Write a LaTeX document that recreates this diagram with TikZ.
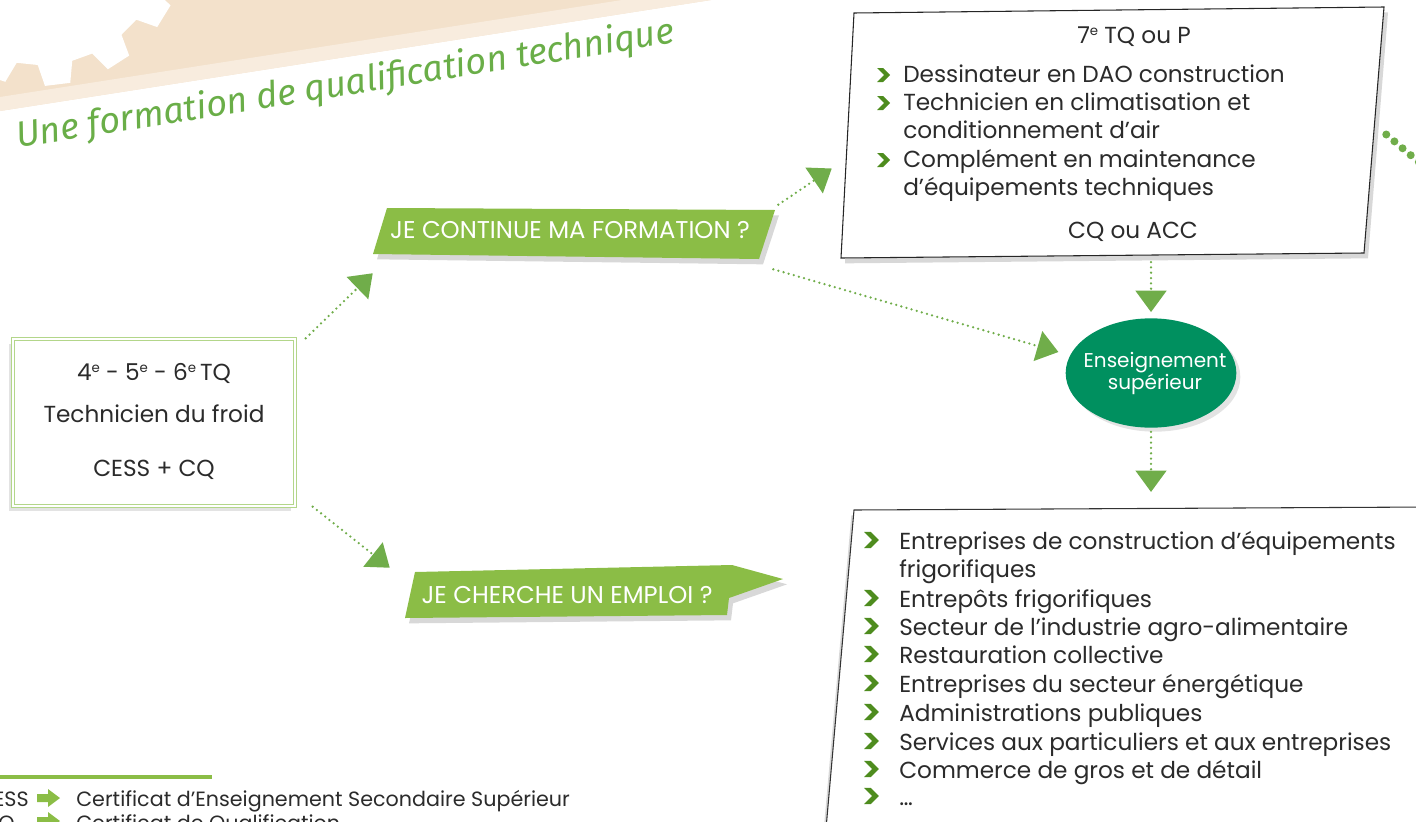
\documentclass[tikz,border=0pt]{standalone}
\usepackage{fontspec}
\setmainfont{Poppins}
\newfontfamily\handfont{Fira Sans}
\usetikzlibrary{arrows.meta,calc,fit,shapes.geometric,shadows}
\definecolor{bannergreen}{HTML}{8BBD46}
\definecolor{arrowgreen}{HTML}{70AD4A}
\definecolor{ellgreen}{HTML}{00905F}
\definecolor{chevgreen}{HTML}{4E8C1E}
\definecolor{titlegreen}{HTML}{6AAE48}
\definecolor{boxgreen}{HTML}{B3D68A}
\definecolor{textdark}{HTML}{2B2B2B}
\definecolor{beige}{HTML}{F3E1CB}
\definecolor{beigelight}{HTML}{F8ECDE}
\newcommand\ordsup[1]{\raisebox{0.62ex}{\fontsize{10}{10}\selectfont #1}}
\tikzset{
  flow/.style={draw=arrowgreen, line width=1.9pt, dash pattern=on 0pt off 4pt, line cap=round,
    -{Triangle[length=16pt,width=23pt,line cap=butt]}},
  bigdots/.style={draw=arrowgreen, line width=6pt, dash pattern=on 0pt off 8pt, line cap=round},
  txt/.style={font=\fontsize{17.4}{20}\selectfont, text=textdark, inner sep=0pt},
  smalltxt/.style={font=\fontsize{15.5}{18}\selectfont, text=textdark, inner sep=0pt},
  bantxt/.style={font=\fontsize{18.2}{20}\selectfont, text=white, inner sep=0pt},
  frame/.style={inner sep=0pt},
  chev/.pic={\fill[chevgreen] (0,-7)--(6,-7)--(13,0)--(6,7)--(0,7)--(7,0)--cycle;},
  shad/.style={drop shadow={shadow xshift=#1, shadow yshift=-4pt, opacity=.22, fill=black!70}},
}
\begin{document}
\begin{tikzpicture}[x=0.75pt,y=-0.75pt]
\useasboundingbox (0,0) rectangle (1416,821);
\clip (0,0) rectangle (1416,821);
% background band and gear
\fill[beige] (0,0) -- (711,0) -- (0,111) -- cycle;
\fill[beigelight] (0,97) -- (622,0) -- (711,0) -- (0,111) -- cycle;
\begin{scope}[shift={(40,-60)}]
\fill[white] (-3:125) \foreach \k [evaluate=\k as \a using 5.9+\k*25.714] in {0,...,13}
  { -- ({\a-8}:125) -- ({\a-5}:146) -- ({\a+5}:146) -- ({\a+8}:125)} -- cycle;
\end{scope}
\node[rotate=9.1, anchor=base west, inner sep=0pt, text=titlegreen,
  font=\handfont\itshape\fontsize{27}{30}\selectfont] (title) at (18,148)
  {Une formation de qualification technique};

% left box
\node[fit={(13,339) (295,506)}, frame, fill=white, draw=boxgreen, line width=1.1pt,
  double=white, double distance=1.4pt, drop shadow={shadow xshift=-3pt, shadow yshift=-4pt, opacity=.22}] (lb) {};
\node[txt, anchor=base] (lb1) at (154,380) {4\ordsup{e} - 5\ordsup{e} - 6\ordsup{e}\,TQ};
\node[txt, anchor=base] (lb2) at (154,422) {Technicien du froid};
\node[txt, anchor=base] (lb3) at (154,476) {CESS + CQ};

% banner 1
\fill[bannergreen, shad=3pt] (387,208) -- (775,210) -- (759,259) -- (373,254) -- cycle;
\node[fit={(373,208) (778,260)}, frame] (b1) {};
\node[bantxt, anchor=base] (b1t) at (570,238) {JE CONTINUE MA FORMATION ?};

% banner 2
\fill[bannergreen, shad=3pt] (415,572) -- (732,565) -- (783,579) -- (729,598) -- (727,615) -- (405,618) -- cycle;
\node[fit={(405,565) (783,618)}, frame] (b2) {};
\node[bantxt, anchor=base] (b2t) at (567,603) {JE CHERCHE UN EMPLOI ?};

% top right box
\filldraw[fill=white, draw=black!85, line width=0.8pt, shad=3pt] (854,13) -- (1384,7) -- (1364,253) -- (841,258) -- cycle;
\node[fit={(841,7) (1384,258)}, frame] (tb) {};
\node[txt, anchor=base] (tb0) at (1134,43) {7\ordsup{e} TQ ou P};
\node[txt, anchor=base west] (tb1) at (903,82) {Dessinateur en DAO construction};
\node[txt, anchor=base west] (tb2) at (903,110) {Technicien en climatisation et};
\node[txt, anchor=base west] (tb3) at (903,138) {conditionnement d’air};
\node[txt, anchor=base west] (tb4) at (903,167) {Complément en maintenance};
\node[txt, anchor=base west] (tb5) at (903,195) {d’équipements techniques};
\node[txt, anchor=base] (tb6) at (1133,238) {CQ ou ACC};
\pic at (877,75) {chev};
\pic at (877,103) {chev};
\pic at (877,160) {chev};

% ellipse
\node[ellipse, fill=ellgreen, minimum width=128pt, minimum height=82pt, inner sep=0pt,
  drop shadow={shadow xshift=3pt, shadow yshift=-3pt, opacity=.22}] (es) at (1151,373) {};
\node[text=white, align=center, inner sep=0pt, font=\fontsize{15}{16.5}\selectfont] (est)
  at (1155,373) {Enseignement\\supérieur};

% bottom right box
\filldraw[fill=white, draw=black!80, line width=0.8pt, shad=-2pt] (854,510) -- (1430,507) -- (1430,840) -- (825,840) -- cycle;
\node[fit={(826,507) (1416,821)}, frame] (bb) {};
\foreach \n/\yy/\t in {e1/549/{Entreprises de construction d’équipements},
  e1b/577/{frigorifiques}, e2/607/{Entrepôts frigorifiques},
  e3/635/{Secteur de l’industrie agro-alimentaire}, e4/663/{Restauration collective},
  e5/692/{Entreprises du secteur énergétique}, e6/721/{Administrations publiques},
  e7/750/{Services aux particuliers et aux entreprises},
  e8/778/{Commerce de gros et de détail}, e9/805/{…}}
  {\node[txt, anchor=base west] (\n) at (899,\yy) {\t};}
\foreach \yy in {549,607,635,663,692,721,750,778,805}
  {\pic[scale=1.15] at (864,\yy-9) {chev};}

% connectors
\draw[flow] ($(lb.north east)+(10,0)$) -- ($(b1.south west)+(0,13)$);
\draw[flow] ($(lb.south east)+(17,0)$) -- ($(b2.north west)+(-15,3)$);
\draw[flow] ($(b1.north east)+(0,-3)$) -- ($(tb.west)+(-9,36)$);
\draw[flow] ($(b1.south east)+(-5,9)$) -- ($(es.west)+(-7,-21)$);
\draw[flow] ($(es.north)+(0,-56)$) -- ($(es.north)+(0,-6)$);
\draw[flow] ($(es.south)+(0,4)$) -- ($(es.south)+(0,64)$);
\coordinate (offR) at (1440,180);
\draw[bigdots] ($(tb.east)+(2,2)$) -- (offR);

% legend
\draw[bannergreen, line width=3pt] (0,777) -- (212,777);
\node[smalltxt, anchor=base east] (lg1) at (29,806) {CESS};
\fill[bannergreen] (37,794)--(48,794)--(48,789)--(60,798)--(48,807)--(48,802)--(37,802)--cycle;
\node[smalltxt, anchor=base west] (lg1t) at (76,806) {Certificat d’Enseignement Secondaire Supérieur};
\node[smalltxt, anchor=base east] (lg2) at (15,830) {CQ};
\fill[bannergreen] (37,817)--(48,817)--(48,812)--(60,821)--(48,830)--(48,825)--(37,825)--cycle;
\node[smalltxt, anchor=base west] (lg2t) at (76,830) {Certificat de Qualification};
\end{tikzpicture}
\end{document}
